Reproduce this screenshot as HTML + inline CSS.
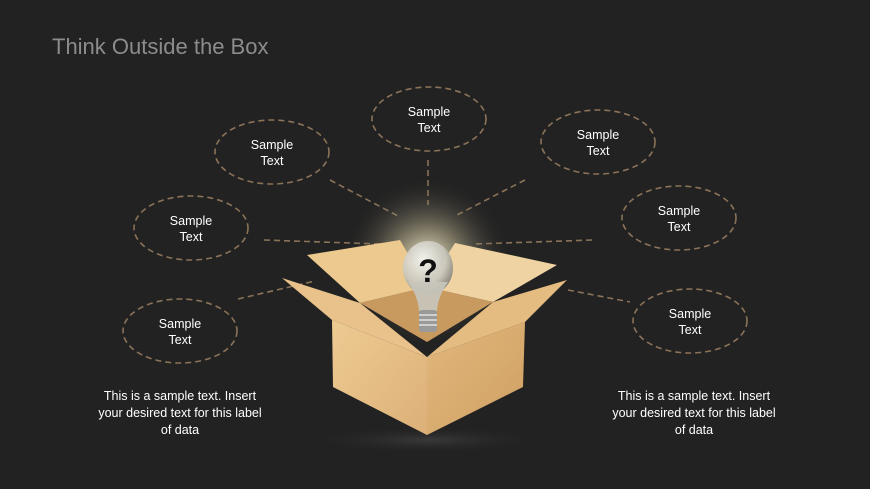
<!DOCTYPE html><html><head><style>
body{margin:0;background:#222;}
svg{display:block}
text{font-family:"Liberation Sans",sans-serif;}
</style></head><body>
<svg width="870" height="489" viewBox="0 0 870 489">
<defs>
<radialGradient id="g" cx="50%" cy="50%" r="50%"><stop offset="0" stop-color="#fffbe0" stop-opacity="0.95"/><stop offset="0.4" stop-color="#e8dcb0" stop-opacity="0.45"/><stop offset="1" stop-color="#222" stop-opacity="0"/></radialGradient>
<radialGradient id="sh" cx="50%" cy="50%" r="50%"><stop offset="0" stop-color="#444" stop-opacity="0.7"/><stop offset="1" stop-color="#222" stop-opacity="0"/></radialGradient>
<linearGradient id="fl" x1="0" y1="0" x2="1" y2="1"><stop offset="0" stop-color="#edcb92"/><stop offset="1" stop-color="#dcb078"/></linearGradient>
<linearGradient id="fr" x1="0" y1="0" x2="1" y2="1"><stop offset="0" stop-color="#e2b87c"/><stop offset="1" stop-color="#cf9f63"/></linearGradient>
<radialGradient id="bulb" cx="40%" cy="35%" r="65%"><stop offset="0" stop-color="#f4f4ee"/><stop offset="0.7" stop-color="#c8c6bc"/><stop offset="1" stop-color="#8a8880"/></radialGradient>
</defs>
<rect width="870" height="489" fill="#222"/>
<text x="52" y="54" font-size="22" fill="#8c8c8c">Think Outside the Box</text>
<g fill="none" stroke="#8a7358" stroke-width="1.6" stroke-dasharray="6 4">
<ellipse cx="272" cy="152" rx="57" ry="32"/>
<ellipse cx="191" cy="228" rx="57" ry="32"/>
<ellipse cx="180" cy="331" rx="57" ry="32"/>
<ellipse cx="429" cy="119" rx="57" ry="32"/>
<ellipse cx="598" cy="142" rx="57" ry="32"/>
<ellipse cx="679" cy="218" rx="57" ry="32"/>
<ellipse cx="690" cy="321" rx="57" ry="32"/>
<line x1="330" y1="180" x2="398" y2="216"/>
<line x1="264" y1="240" x2="380" y2="244"/>
<line x1="238" y1="299" x2="315" y2="281"/>
<line x1="428" y1="160" x2="428" y2="205"/>
<line x1="525" y1="180" x2="455" y2="216"/>
<line x1="592" y1="240" x2="475" y2="244"/>
<line x1="568" y1="290" x2="630" y2="302"/>
</g>
<g fill="#fff" font-size="12.5" text-anchor="middle">
<text x="272" y="149">Sample</text><text x="272" y="165">Text</text>
<text x="191" y="225">Sample</text><text x="191" y="241">Text</text>
<text x="180" y="328">Sample</text><text x="180" y="344">Text</text>
<text x="429" y="116">Sample</text><text x="429" y="132">Text</text>
<text x="598" y="139">Sample</text><text x="598" y="155">Text</text>
<text x="679" y="215">Sample</text><text x="679" y="231">Text</text>
<text x="690" y="318">Sample</text><text x="690" y="334">Text</text>
<text x="180" y="400">This is a sample text. Insert</text>
<text x="180" y="417">your desired text for this label</text>
<text x="180" y="434">of data</text>
<text x="694" y="400">This is a sample text. Insert</text>
<text x="694" y="417">your desired text for this label</text>
<text x="694" y="434">of data</text>
</g>
<ellipse cx="427" cy="440" rx="120" ry="14" fill="url(#sh)"/>
<circle cx="427" cy="262" r="85" fill="url(#g)"/>
<polygon points="307,255 400,240 427,287 360,303" fill="#ecc98f"/>
<polygon points="455,243 557,265 493,302 427,287" fill="#f0d3a2"/>
<polygon points="360,303 427,287 493,302 427,342" fill="#c99a60"/>
<g>
<ellipse cx="428" cy="268" rx="25" ry="27" fill="url(#bulb)" opacity="0.92"/>
<path d="M408,282 Q418,296 419,311 L437,311 Q438,296 448,282 Z" fill="#c8c6bc" opacity="0.92"/>
<rect x="419" y="310" width="18" height="22" rx="3" fill="#9a9a98"/>
<g stroke="#e0e0e0" stroke-width="1.5"><line x1="419" y1="315" x2="437" y2="315"/><line x1="419" y1="320" x2="437" y2="320"/><line x1="419" y1="325" x2="437" y2="325"/></g>
<text x="428" y="282" font-size="32" font-weight="bold" fill="#111" text-anchor="middle">?</text>
</g>
<polygon points="332,320 427,357 427,435 333,387" fill="url(#fl)"/>
<polygon points="427,357 525,322 523,387 427,435" fill="url(#fr)"/>
<polygon points="282,278 332,320 427,357 360,303" fill="#e8c28a"/>
<polygon points="493,302 567,280 525,322 427,357" fill="#e4bb80"/>
</svg>
</body></html>
